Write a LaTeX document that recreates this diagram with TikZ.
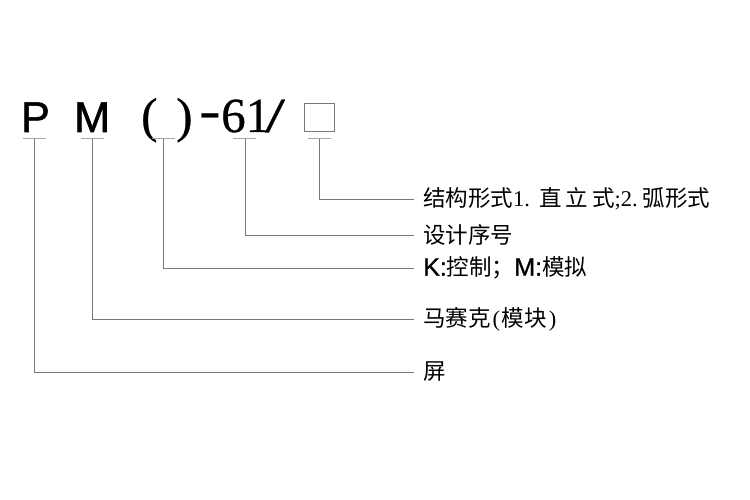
\documentclass[tikz,border=0pt]{standalone}
\usepackage{fontspec}
\setmainfont{Liberation Serif}
\newfontfamily\cjk{Noto Sans CJK SC}
\newfontfamily\arial{Liberation Sans}
\newfontfamily\arialheavy[FakeBold=1.2]{Liberation Sans}
\newfontfamily\serifheavy[FakeBold=0.6]{Liberation Serif}
\definecolor{leadc}{HTML}{777777}
\definecolor{underc}{HTML}{A8A8A8}
\newcommand{\hw}[1]{\makebox[0.5em]{\rmfamily #1}}
\newcommand{\latk}[1]{{\arialheavy\fontsize{25}{25}\selectfont #1}}
\begin{document}
\begin{tikzpicture}[x=1pt,y=-1pt,
  code/.style={inner sep=0pt, anchor=base west, text=black},
  codesans/.style={code, font=\arialheavy\fontsize{43}{43}\selectfont},
  codeserif/.style={code, font=\serifheavy\fontsize{49}{49}\selectfont},
  lbl/.style={anchor=west, inner xsep=9pt, inner ysep=0pt, font=\cjk\fontsize{22.5}{22.5}\selectfont, text=black},
  lead/.style={draw=leadc, line width=0.8pt},
  under/.style={draw=underc, line width=1pt}
]
\useasboundingbox (0,0) rectangle (750,500);

% code row
\node[codesans] (p) at (21,132) {P};
\node[codesans] (m) at (74,132) {M};
\node[codeserif] (lp) at (141,132) {(};
\node[codeserif] (rp) at (176,132) {)};
\node[codeserif] (dash) at (199,132) {\raisebox{5pt}{\scalebox{1.3}[1]{-}}};
\node[codeserif] (num) at (221,132) {61};
\node[codeserif] (sl) at (265,132) {\scalebox{1.45}[1]{/}};
\node[draw=leadc, line width=0.8pt, minimum width=30pt, minimum height=28pt, inner sep=0pt] (box) at (319.5,117) {};

% underline centres
\coordinate (up) at (34,139);
\coordinate (um) at (92,139);
\coordinate (uk) at (163,139);
\coordinate (un) at (245,139);
\coordinate (ub) at (319.5,139);

\draw[under] (23,139) -- (46,139);
\draw[under] (81,139) -- (104,139);
\draw[under] (152,139) -- (175,139);
\draw[under] (233,139) -- (256,139);
\draw[under] (308,139) -- (331,139);

% labels
\node[lbl] (t1) at (414,199) {结构形式\makebox[26pt][l]{\rmfamily 1.}直\hspace{4pt}立\hspace{4pt}式\makebox[28pt][l]{\rmfamily ;2.}弧形式};
\node[lbl] (t2) at (414,235) {设计序号};
\node[lbl] (t3) at (414,268) {\latk{K:}控制；\latk{M:}模拟};
\node[lbl] (t4) at (414,319) {马赛克\hw{(}模块\hw{)}};
\node[lbl] (t5) at (414,372) {屏};

% leaders
\draw[lead] (ub) |- (t1.west);
\draw[lead] (un) |- (t2.west);
\draw[lead] (uk) |- (t3.west);
\draw[lead] (um) |- (t4.west);
\draw[lead] (up) |- (t5.west);
\end{tikzpicture}
\end{document}
